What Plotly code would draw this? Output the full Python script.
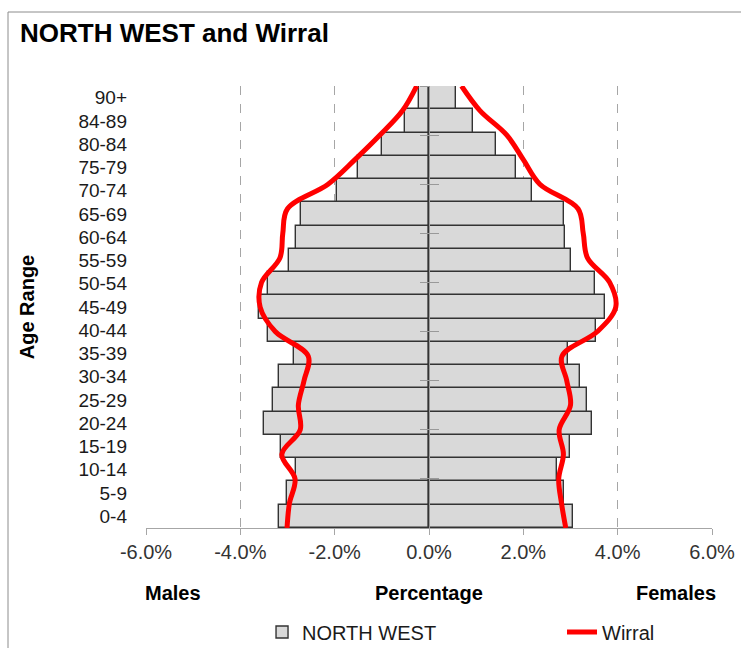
import plotly.graph_objects as go

# age bands, bottom to top
ages = ["0-4", "5-9", "10-14", "15-19", "20-24", "25-29", "30-34", "35-39", "40-44",
        "45-49", "50-54", "55-59", "60-64", "65-69", "70-74", "75-79", "80-84", "84-89", "90+"]

# NORTH WEST, % of population
nw_males = [-3.17, -3.01, -2.82, -3.14, -3.50, -3.31, -3.17, -2.87, -3.42,
            -3.60, -3.42, -2.97, -2.82, -2.71, -1.95, -1.51, -1.00, -0.51, -0.21]
nw_females = [3.05, 2.87, 2.72, 2.99, 3.45, 3.35, 3.21, 2.94, 3.54,
              3.73, 3.51, 3.02, 2.88, 2.86, 2.18, 1.85, 1.42, 0.93, 0.57]

# Wirral, % of population
wirral_males = [-3.01, -2.96, -2.84, -3.12, -2.73, -2.77, -2.65, -2.56, -3.26,
                -3.58, -3.55, -3.16, -3.10, -3.00, -2.14, -1.57, -1.04, -0.56, -0.26]
wirral_females = [2.90, 2.81, 2.75, 2.85, 2.76, 3.00, 2.92, 2.82, 3.57,
                  3.96, 3.83, 3.36, 3.27, 3.16, 2.35, 2.00, 1.65, 1.08, 0.69]

x_ticks = [-6, -4, -2, 0, 2, 4, 6]
x_tick_labels = ["-6.0%", "-4.0%", "-2.0%", "0.0%", "2.0%", "4.0%", "6.0%"]

FONT = "Arial, Liberation Sans, sans-serif"
bar_style = dict(color="#d9d9d9", line=dict(color="#333333", width=1.4))
red_line = dict(color="#ff0000", width=5, shape="spline", smoothing=1)
positions = list(range(len(ages)))

fig = go.Figure()
fig.add_trace(go.Bar(y=ages, x=nw_males, orientation="h", marker=bar_style,
                     name="NORTH WEST", legendgroup="nw", showlegend=True, legend="legend"))
fig.add_trace(go.Bar(y=ages, x=nw_females, orientation="h", marker=bar_style,
                     name="NORTH WEST", legendgroup="nw", showlegend=False))
fig.add_trace(go.Scatter(y=positions, x=wirral_males, yaxis="y2", mode="lines", line=red_line,
                         name="Wirral", legendgroup="w", showlegend=True, legend="legend2"))
fig.add_trace(go.Scatter(y=positions, x=wirral_females, yaxis="y2", mode="lines", line=red_line,
                         name="Wirral", legendgroup="w", showlegend=False))
fig.add_trace(go.Scatter(y=positions, x=[0] * len(ages), yaxis="y3", mode="lines",
                         line=dict(width=0), showlegend=False, hoverinfo="skip"))

legend_style = dict(orientation="h", xanchor="left", y=-0.2353, yanchor="middle",
                    font=dict(size=20, color="#1a1a1a"), bgcolor="rgba(0,0,0,0)")
label_style = dict(xref="paper", yref="paper", xanchor="center", yanchor="middle",
                   showarrow=False, font=dict(size=20, color="#000000"))

fig.update_layout(
    width=741,
    height=648,
    paper_bgcolor="white",
    plot_bgcolor="white",
    barmode="overlay",
    bargap=0,
    font=dict(family=FONT, size=19, color="#1a1a1a"),
    margin=dict(l=146, r=29, t=86, b=120, autoexpand=False),
    title=dict(text="<b>NORTH WEST and Wirral</b>", x=20 / 741, xanchor="left", xref="container",
               y=1 - 33 / 648, yanchor="middle", yref="container",
               font=dict(family=FONT, size=26, color="#000000")),
    xaxis=dict(
        range=[-6, 6],
        tickvals=x_ticks,
        ticktext=x_tick_labels,
        showgrid=True,
        gridcolor="#a6a6a6",
        griddash="dash",
        gridwidth=1,
        zeroline=False,
        showline=True,
        linecolor="#a6a6a6",
        linewidth=1,
        ticks="outside",
        ticklen=6,
        tickcolor="#a6a6a6",
        tickfont=dict(size=20, color="#333333"),
        fixedrange=True,
    ),
    yaxis=dict(
        type="category",
        range=[-0.5, len(ages) - 0.5],
        showgrid=False,
        zeroline=False,
        showline=False,
        ticks="",
        ticklabelstandoff=18,
        tickfont=dict(size=19, color="#1a1a1a"),
        title=dict(text="<b>Age Range</b>", standoff=38, font=dict(size=20, color="#000000")),
    ),
    yaxis2=dict(
        overlaying="y",
        anchor="free",
        position=0.5,
        range=[0, len(ages) - 1],
        dtick=2,
        showticklabels=False,
        showgrid=False,
        zeroline=False,
        showline=True,
        linecolor="#999999",
        linewidth=1,
        ticks="outside",
        ticklen=9,
        tickcolor="#999999",
        layer="above traces",
    ),
    yaxis3=dict(
        overlaying="y",
        anchor="free",
        position=0.5,
        range=[0, len(ages) - 1],
        dtick=2,
        showticklabels=False,
        showgrid=False,
        zeroline=False,
        showline=False,
        ticks="inside",
        ticklen=9,
        tickcolor="#999999",
        layer="above traces",
    ),
    legend=dict(x=0.205, **legend_style),
    legend2=dict(x=0.735, **legend_style),
    annotations=[
        dict(text="<b>Males</b>", x=0.0472, y=-0.147, **label_style),
        dict(text="<b>Percentage</b>", x=0.5, y=-0.147, **label_style),
        dict(text="<b>Females</b>", x=0.9364, y=-0.147, **label_style),
    ],
    shapes=[
        dict(type="rect", xref="paper", yref="paper", x0=-0.2438, y0=-0.5, x1=1.2, y1=1.1674,
             line=dict(color="#8c8c8c", width=1), fillcolor="rgba(0,0,0,0)", layer="below"),
    ],
)

# drop the page's default body margin so the figure fills the window exactly
fig.write_html("out.html", config={"displayModeBar": False},
               post_script="document.body.style.margin='0';document.body.style.overflow='hidden';")
